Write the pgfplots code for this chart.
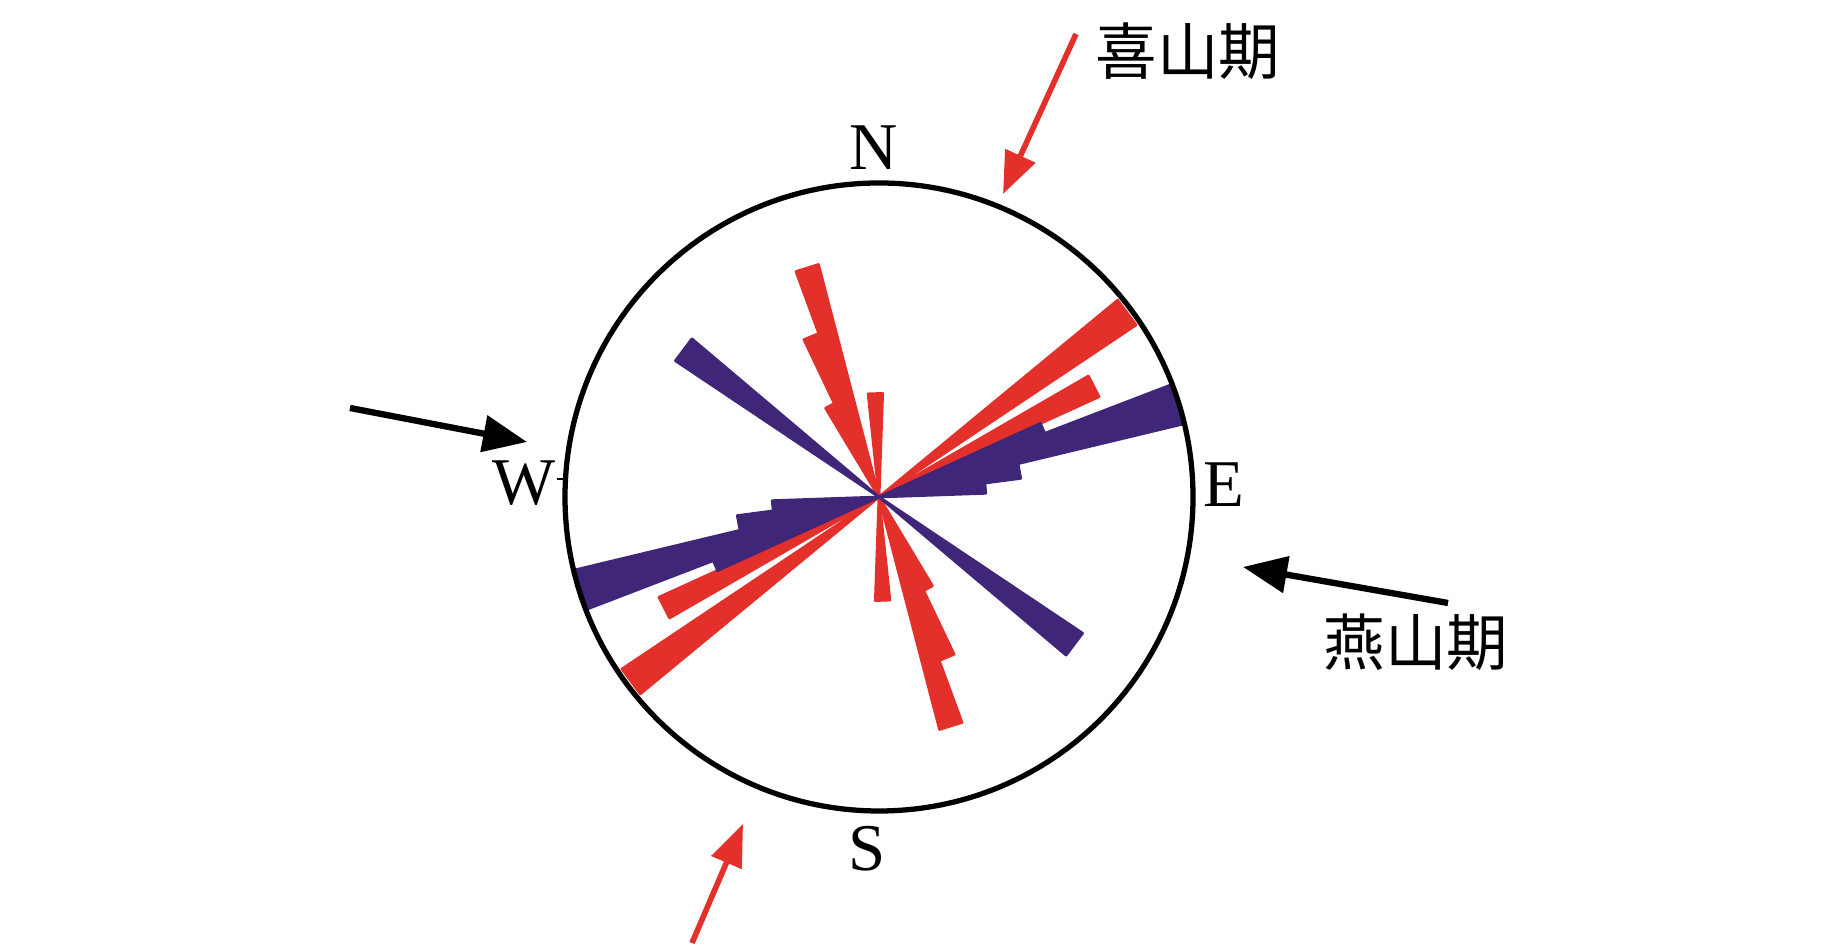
\documentclass[border=0pt]{standalone}
\usepackage{fontspec}
\setmainfont{Liberation Serif}
\newfontfamily\cjk{Noto Sans CJK SC}
\usepackage{pgfplots}
\pgfplotsset{compat=1.18}
\usepgfplotslibrary{polar}
\usetikzlibrary{arrows.meta}
\definecolor{rosered}{HTML}{E3302B}
\definecolor{roseblue}{HTML}{402678}

\begin{document}
\begin{tikzpicture}
\begin{polaraxis}[
  scale only axis,
  width=6.28cm, height=6.28cm,
  ymin=0, ymax=1,
  xtick=\empty, ytick=\empty,
  hide axis,
  clip=false,
  petal/.style={draw=#1, fill=#1, line width=0.8pt, line join=round},
]
% red rose (angle in degrees, radius as fraction of circle)
\addplot[petal=rosered] coordinates {(0,0) (88,0.33) (96,0.33) (0,0)};
\addplot[petal=rosered] coordinates {(0,0) (268,0.33) (276,0.33) (0,0)};
\addplot[petal=rosered] coordinates {
  (0,0) (104.6,0.765) (110.2,0.765) (110.2,0.555) (115.5,0.555) (115.5,0.33) (121,0.33) (0,0)};
\addplot[petal=rosered] coordinates {
  (0,0) (284.6,0.765) (290.2,0.765) (290.2,0.555) (295.5,0.555) (295.5,0.33) (301,0.33) (0,0)};
\addplot[petal=rosered] coordinates {(0,0) (33.8,0.985) (39.5,0.985) (0,0)};
\addplot[petal=rosered] coordinates {(0,0) (213.8,0.985) (219.5,0.985) (0,0)};
\addplot[petal=rosered] coordinates {(0,0) (24.5,0.77) (30,0.77) (0,0)};
\addplot[petal=rosered] coordinates {(0,0) (204.5,0.77) (210,0.77) (0,0)};
% blue rose
\addplot[petal=roseblue] coordinates {(0,0) (139.8,0.78) (146.2,0.78) (0,0)};
\addplot[petal=roseblue] coordinates {(0,0) (319.8,0.78) (326.2,0.78) (0,0)};
\addplot[petal=roseblue] coordinates {
  (0,0) (2,0.34) (7.5,0.34) (7.5,0.455) (13.5,0.455) (13.5,0.995) (21,0.995) (21,0.565) (24.5,0.565) (0,0)};
\addplot[petal=roseblue] coordinates {
  (0,0) (182,0.34) (187.5,0.34) (187.5,0.455) (193.5,0.455) (193.5,0.995) (201,0.995) (201,0.565) (204.5,0.565) (0,0)};
\coordinate (O) at (axis cs:0,0);
\end{polaraxis}

\begin{scope}[shift={(O)}]
\path (-8.79,-4.48) rectangle (9.64,4.97);
\draw[black, line width=1.5pt] (0,0) circle[radius=3.14cm];
\draw[black, line width=0.6pt] (-3.22,0.18) -- (-3.16,0.18);
\node[font=\fontsize{19}{22}\selectfont] at (-0.05,3.49) {N};
\node[font=\fontsize{19}{22}\selectfont] at (3.45,0.12) {E};
\node[font=\fontsize{19}{22}\selectfont] at (-0.12,-3.52) {S};
\node[font=\fontsize{19}{22}\selectfont] at (-3.55,0.14) {W};
\node[font=\cjk\fontsize{17.5}{20}\selectfont] at (3.09,4.46) {喜山期};
\node[font=\cjk\fontsize{17.5}{20}\selectfont] at (5.37,-1.45) {燕山期};
\draw[rosered, line width=1.6pt, -{Triangle[length=0.42cm, width=0.32cm]}] (1.97,4.63) -- (1.24,3.03);
\draw[rosered, line width=1.6pt, -{Triangle[length=0.42cm, width=0.32cm]}] (-1.87,-4.46) -- (-1.36,-3.27);
\draw[black, line width=1.8pt, -{Triangle[length=0.44cm, width=0.36cm]}] (-5.29,0.89) -- (-3.52,0.55);
\draw[black, line width=1.8pt, -{Triangle[length=0.44cm, width=0.36cm]}] (5.69,-1.06) -- (3.64,-0.70);
\end{scope}
\end{tikzpicture}
\end{document}
